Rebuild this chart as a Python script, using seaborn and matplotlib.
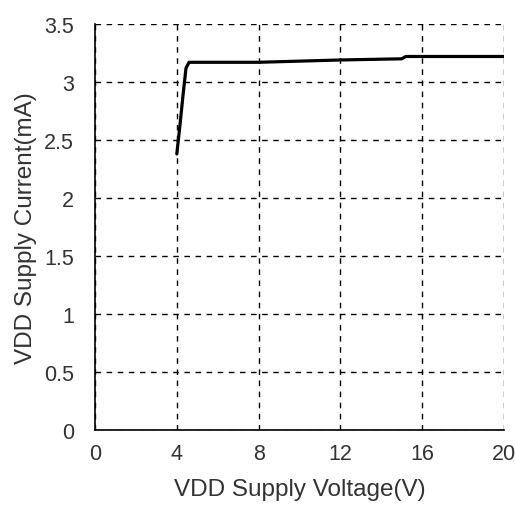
import pandas as pd
import matplotlib
matplotlib.use("Agg")
import matplotlib.pyplot as plt
import seaborn as sns

# VDD supply voltage (V) vs supply current (mA)
voltage = [4.0, 4.15, 4.3, 4.45, 4.6, 8.0, 12.0, 15.0, 15.2, 20.0]
current = [2.38, 2.62, 2.88, 3.12, 3.17, 3.17, 3.19, 3.20, 3.22, 3.22]
x_ticks = [0, 4, 8, 12, 16, 20]
y_ticks = [0, 0.5, 1, 1.5, 2, 2.5, 3, 3.5]
y_tick_labels = ["0", "0.5", "1", "1.5", "2", "2.5", "3", "3.5"]

df = pd.DataFrame({"voltage": voltage, "current": current})

sns.set_style("white")
plt.rcParams["font.family"] = ["Liberation Sans", "DejaVu Sans"]

fig = plt.figure(figsize=(5.15, 5.06), dpi=100)
ax = fig.add_axes([0.1845, 0.148, 0.794, 0.8026])

sns.lineplot(data=df, x="voltage", y="current", ax=ax, color="black",
             linewidth=2.3, sort=False)

ax.set_xlim(0, 20)
ax.set_ylim(0, 3.5)
ax.set_xticks(x_ticks)
ax.set_yticks(y_ticks)
ax.set_yticklabels(y_tick_labels)
ax.grid(True, color="black", linestyle=(0, (4, 4)), linewidth=1)
ax.set_axisbelow(True)
for side in ["top", "right"]:
    ax.spines[side].set_visible(False)
for side in ["left", "bottom"]:
    ax.spines[side].set_color("black")
    ax.spines[side].set_linewidth(1.2)
ax.tick_params(axis="both", labelsize=15.5, colors="#333333", length=0)
ax.tick_params(axis="y", pad=15)
ax.tick_params(axis="x", pad=9)
ax.set_xlabel("VDD Supply Voltage(V)", fontsize=17.5, color="#333333", labelpad=10)
ax.set_ylabel("VDD Supply Current(mA)", fontsize=17.5, color="#333333", labelpad=5)

fig.savefig("out.png", dpi=100)
